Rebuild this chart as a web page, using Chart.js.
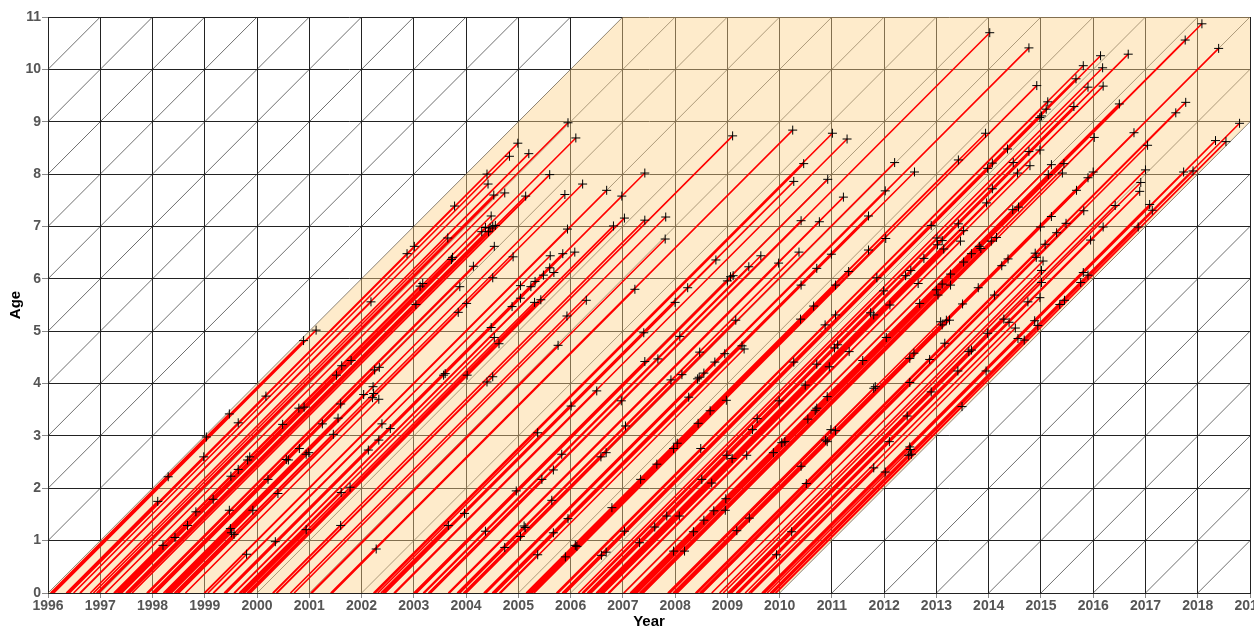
<!DOCTYPE html>
<html>
<head>
<meta charset="utf-8">
<script src="https://cdn.jsdelivr.net/npm/chart.js@4.4.1/dist/chart.umd.min.js"></script>
<style>
html,body{margin:0;padding:0;overflow:hidden;background:#fff;}
#wrap{width:1254px;height:627px;overflow:hidden;}
</style>
</head>
<body>
<div id="wrap"><canvas id="c" width="1280" height="627"></canvas></div>
<script>
// ---- tick labels ----
const yearTicks = [1996,1997,1998,1999,2000,2001,2002,2003,2004,2005,2006,2007,2008,2009,2010,2011,2012,2013,2014,2015,2016,2017,2018,2019];
const ageTicks = [0,1,2,3,4,5,6,7,8,9,10,11];

// ---- observed cohort window ----
const cohortFirst = 1996;
const cohortLast = 2010;
const observationEnd = 2019;
const maxAge = 11;

// ---- events: calendar time and age at event (each line starts at birth, age 0) ----
const eventYear = [
2005.95,2006.10,2004.99,2004.83,2005.20,2004.40,2005.60,2004.42,2004.53,2004.74,2005.14,2005.89,2006.23,2006.69,2006.98,2007.42,2003.78,
2009.10,2010.25,2011.01,2011.29,2010.46,2010.27,2010.92,2011.22,2012.20,2012.58,2012.02,
2014.02,2014.77,2018.08,2017.76,2018.40,2016.14,2016.67,2015.81,2016.18,2015.67,2015.90,2016.19,2014.92,2015.13,2015.10,2015.01,2014.98,2015.63,2016.50,2017.77,2017.58,2018.80,
2013.94,2016.78,2016.02,2017.04,2014.36,2014.77,2014.98,2013.42,2014.07,2014.47,2014.79,2013.98,2015.20,2015.44,2014.55,2015.14,2015.41,2016.00,2017.00,2017.73,2017.91,2018.34,2018.54,
2015.90,2015.68,2014.07,2013.96,2016.91,2016.89,2017.08,2017.13,2016.42,2015.82,2014.46,2014.57,
2001.13,2000.89,2001.62,2001.52,2000.17,2001.60,
2004.48,2004.37,2004.43,2004.51,2004.56,2004.30,2004.46,2003.65,2003.01,2002.87,2004.54,2003.72,2003.74,2004.14,2004.90,2005.61,2005.85,2006.08,2005.94,2006.82,2007.03,2007.42,
2005.60,2005.48,2005.68,2004.51,2003.17,2003.12,2003.88,2005.04,2005.24,2005.32,2005.04,2005.31,2005.43,2004.88,2004.01,2003.04,2002.18,2003.85,2006.30,2005.93,2007.23,2007.40,
2004.48,2004.54,2004.63,2005.76,2007.42,2006.50,2006.97,2001.80,2002.25,2002.34,2003.57,2003.60,2004.02,2004.40,2004.51,2002.22,2002.04,2002.21,2002.33,2002.23,
2007.82,2007.81,2010.41,2010.76,2011.70,2012.90,2012.03,2011.70,2013.01,2013.11,2013.02,2013.14,2008.78,2009.64,2009.41,2009.98,2010.37,2010.99,2010.71,2011.32,2011.86,2012.41,2012.51,2012.76,
2009.06,2009.00,2009.11,2008.24,2008.00,2010.41,2011.07,2011.99,2012.11,2012.68,2012.65,2013.00,2013.03,2013.11,2010.65,2010.40,2010.87,2011.07,2011.74,2011.80,2009.16,2013.08,2013.19,2013.11,
2008.09,2008.47,2007.67,2008.95,2009.28,2009.32,2008.76,2008.13,2008.55,2008.43,2008.46,2007.92,2008.26,2008.98,2009.99,2010.27,2010.71,2010.95,2011.11,2011.05,2011.33,2011.59,2012.04,2012.49,2012.57,2012.87,2013.16,
2010.49,2010.91,2011.80,2011.83,2012.49,2012.90,
2015.20,2015.48,2013.42,2013.52,2014.99,2015.30,2016.19,2015.95,2016.86,2013.46,2014.05,2014.15,2013.82,2013.85,2013.67,2013.52,2015.08,2014.89,2014.91,2015.04,2014.25,2014.37,2015.01,
2013.27,2013.27,2013.80,2015.01,2015.81,2015.90,2015.76,2014.11,2014.98,2014.75,2013.50,2015.36,2015.45,2013.25,2014.29,2014.39,2014.51,2014.88,2014.94,2013.98,2014.56,2014.68,2013.62,2013.67,2013.41,2013.95,
1999.47,1999.64,2000.49,2000.80,2000.90,2001.55,2001.25,2001.46,1999.03,1998.98,1999.86,1999.82,2000.56,2000.60,2000.81,2000.94,2000.99,1999.64,1999.50,2000.21,2001.78,
1998.30,1998.10,1999.16,2000.40,2001.61,1998.83,1999.47,1999.92,1998.67,1998.43,1998.20,1999.49,1999.51,1999.56,1999.80,2000.35,2000.94,2001.60,
2002.39,2002.55,2002.33,2002.13,2002.28,2006.01,2007.05,2005.37,2005.83,2005.67,2005.45,2006.58,2006.68,2007.34,2004.96,2005.64,2006.79,2003.97,2003.66,2004.37,
2005.11,2005.13,2005.04,2005.67,2005.95,2007.03,2004.74,2005.37,2005.90,2006.09,2006.12,2006.59,2006.68,2007.32,
2008.67,2008.44,2009.57,2009.48,2010.54,2010.68,2010.71,2010.98,2011.07,2010.88,2010.91,2012.44,2012.10,2012.49,2012.50,2012.47,2012.52,2011.80,2012.02,
2007.97,2008.04,2008.49,2007.65,2008.99,2009.09,2009.37,2009.88,2010.04,2010.10,2010.41,2010.51,2008.51,2008.70,2008.97,2008.96,2008.74,2008.55,2007.84,2008.08,
2007.61,2008.35,2009.18,2009.42,2007.97,2008.18,2009.94,2010.23,2013.49
];
const eventAge = [
8.98,8.69,8.59,8.34,8.39,8.00,7.99,7.81,7.60,7.64,7.58,7.61,7.81,7.69,7.58,8.02,7.39,
8.73,8.84,8.78,8.67,8.20,7.86,7.90,7.56,8.22,8.04,7.68,
10.70,10.41,10.87,10.56,10.40,10.26,10.29,10.07,10.03,9.82,9.66,9.68,9.69,9.38,9.24,9.11,9.08,9.29,9.34,9.37,9.17,8.97,
8.78,8.79,8.70,8.55,8.48,8.43,8.46,8.27,8.21,8.22,8.16,8.11,8.18,8.20,8.02,7.99,8.02,8.04,8.08,8.04,8.06,8.64,8.62,
7.93,7.69,7.72,7.45,7.84,7.67,7.42,7.31,7.40,7.30,7.32,7.37,
5.02,4.82,4.34,4.16,3.76,3.61,
7.20,6.98,6.90,7.00,7.02,6.90,6.97,6.78,6.62,6.48,6.62,6.37,6.41,6.24,6.42,6.44,6.48,6.51,6.95,7.01,7.16,7.12,
6.21,6.07,6.12,6.02,5.91,5.86,5.85,5.87,5.85,5.95,5.63,5.55,5.60,5.47,5.53,5.51,5.56,5.36,5.59,5.29,5.80,4.97,
5.07,4.88,4.76,4.73,4.42,3.86,3.67,4.44,4.26,4.31,4.16,4.19,4.16,4.03,4.13,3.94,3.79,3.73,3.70,3.81,
7.18,6.76,7.11,7.09,7.20,7.02,6.77,6.55,6.78,6.73,6.65,6.57,6.36,6.44,6.23,6.30,6.51,6.47,6.20,6.14,6.02,6.06,6.16,6.39,
6.04,5.96,6.06,5.83,5.55,5.88,5.88,5.77,5.50,5.53,5.91,5.79,5.69,5.90,5.48,5.23,5.12,5.31,5.35,5.31,5.21,5.18,5.21,5.12,
4.90,4.60,4.47,4.57,4.72,4.66,4.41,4.17,4.20,4.09,4.12,4.07,3.74,3.68,3.67,4.41,4.37,4.32,4.74,4.68,4.61,4.44,4.88,4.48,4.58,4.46,4.77,
3.97,3.75,3.91,3.94,4.02,3.84,
7.19,7.06,7.05,6.92,6.99,6.88,6.99,6.74,6.99,6.72,6.72,6.79,6.62,6.58,6.48,6.32,6.66,6.49,6.41,6.34,6.25,6.38,6.16,
6.09,5.88,5.83,5.93,6.12,6.07,5.93,5.69,5.64,5.56,5.52,5.51,5.59,5.21,5.23,5.17,5.06,5.20,5.11,4.96,4.86,4.83,4.61,4.64,4.24,4.24,
3.42,3.25,3.22,3.53,3.55,3.34,3.23,3.03,2.98,2.60,2.60,2.54,2.55,2.54,2.76,2.65,2.68,2.36,2.23,2.17,2.02,
2.22,1.75,1.79,1.90,1.92,1.55,1.58,1.58,1.29,1.06,0.91,1.23,1.15,1.12,0.74,0.98,1.21,1.29,
3.23,3.14,2.92,2.73,0.84,3.57,3.19,3.06,2.65,2.35,2.17,2.60,2.68,2.17,1.95,1.77,1.63,1.52,1.29,1.18,
1.28,1.25,1.08,1.15,1.42,1.18,0.87,0.73,0.69,0.91,0.89,0.72,0.78,0.96,
3.48,3.24,3.33,3.12,3.32,3.49,3.53,3.12,3.10,2.92,2.89,3.38,2.89,2.79,2.74,2.63,2.65,2.39,2.31,
2.76,2.86,2.76,2.46,2.63,2.57,2.63,2.68,2.87,2.89,2.42,2.09,2.17,2.10,1.80,1.58,1.57,1.39,1.47,1.47,
1.26,1.17,1.19,1.43,0.80,0.80,0.73,1.17,3.56
];

// ---- build datasets from the data ----
const n = Math.min(eventYear.length, eventAge.length);
const lifeLines = [];
const eventPts = [];
for (let i = 0; i < n; i++) {
  const birth = eventYear[i] - eventAge[i];
  lifeLines.push({x: birth, y: 0}, {x: eventYear[i], y: eventAge[i]}, {x: null, y: null});
  eventPts.push({x: eventYear[i], y: eventAge[i]});
}
// diagonal cohort lines of the Lexis grid
const diag = [];
for (let c = yearTicks[0] - maxAge; c <= yearTicks[yearTicks.length - 1]; c++) {
  diag.push({x: c, y: 0}, {x: c + maxAge, y: maxAge}, {x: null, y: null});
}
// shaded observed area (cohorts cohortFirst..cohortLast, up to observationEnd)
const shade = [
  {x: cohortFirst, y: 0},
  {x: cohortFirst + maxAge, y: maxAge},
  {x: observationEnd, y: maxAge},
  {x: observationEnd, y: observationEnd - cohortLast},
  {x: cohortLast, y: 0}
];

const FONT = '"Liberation Sans", Arial, Helvetica, sans-serif';
Chart.defaults.font.family = FONT;

new Chart(document.getElementById('c'), {
  type: 'scatter',
  data: {
    datasets: [
      {data: eventPts, showLine: false, pointStyle: 'cross', pointRadius: 4.5, pointBorderColor: '#000', pointBorderWidth: 1, pointBackgroundColor: '#000', order: 1},
      {data: lifeLines, showLine: true, borderColor: '#ff0000', borderWidth: 1.6, pointRadius: 0, spanGaps: false, order: 2},
      {data: shade, showLine: true, borderWidth: 0, borderColor: 'rgba(0,0,0,0)', backgroundColor: 'rgba(253,210,136,0.44)', fill: 'shape', pointRadius: 0, order: 3},
      {data: diag, showLine: true, borderColor: 'rgba(40,40,40,0.75)', borderWidth: 0.9, pointRadius: 0, spanGaps: false, order: 4}
    ]
  },
  options: {
    responsive: false,
    animation: false,
    events: [],
    layout: {padding: {left: 0, top: 17, right: 30, bottom: 0}},
    plugins: {legend: {display: false}, tooltip: {enabled: false}},
    scales: {
      x: {
        type: 'linear', min: yearTicks[0], max: yearTicks[yearTicks.length - 1],
        afterBuildTicks: s => { s.ticks = yearTicks.map(v => ({value: v})); },
        afterFit: s => { s.height = 34; },
        ticks: {color: '#555', font: {size: 14, weight: 'bold'}, padding: 0, maxRotation: 0, autoSkip: false, callback: v => String(v)},
        grid: {color: '#222', lineWidth: 1, tickLength: 5, tickColor: '#888'},
        border: {display: true, color: '#222'},
        title: {display: true, text: 'Year', color: '#000', font: {size: 15, weight: 'bold'}, padding: {top: 0, bottom: -4}}
      },
      y: {
        type: 'linear', min: ageTicks[0], max: ageTicks[ageTicks.length - 1],
        afterBuildTicks: s => { s.ticks = ageTicks.map(v => ({value: v})); },
        afterFit: s => { s.width = 48; },
        ticks: {color: '#555', font: {size: 14, weight: 'bold'}, padding: 1, callback: v => String(v)},
        grid: {color: '#222', lineWidth: 1, tickLength: 6, tickColor: '#888'},
        border: {display: true, color: '#222'},
        title: {display: true, text: 'Age', color: '#000', font: {size: 15, weight: 'bold'}, padding: {top: 7, bottom: 0}}
      }
    }
  }
});
</script>
</body>
</html>
